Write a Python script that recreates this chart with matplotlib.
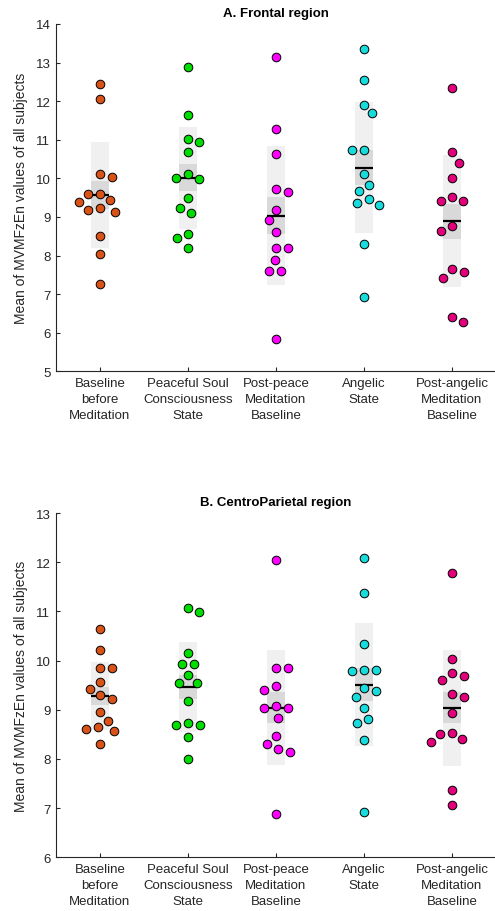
import numpy as np
import matplotlib
matplotlib.use('Agg')
import matplotlib.pyplot as plt
from matplotlib.patches import Rectangle

plt.rcParams['font.family'] = ['Liberation Sans', 'DejaVu Sans']

categories = ['Baseline\nbefore\nMeditation', 'Peaceful Soul\nConsciousness\nState',
              'Post-peace\nMeditation\nBaseline', 'Angelic\nState',
              'Post-angelic\nMeditation\nBaseline']
colors = ['#D95319', '#00DD00', '#FF00FF', '#18DCDC', '#E3007B']

# frontal region, one list per condition (14 subjects)
frontal_baseline = [12.44, 12.06, 10.04, 10.12, 9.59, 9.59, 9.39, 9.43, 9.24, 9.14, 9.17, 8.51, 8.03, 7.26]
frontal_peace = [12.88, 11.64, 10.93, 11.02, 10.69, 10.10, 9.98, 10.01, 9.48, 9.24, 9.09, 8.56, 8.45, 8.19]
frontal_postpeace = [13.15, 11.28, 10.64, 9.65, 9.72, 9.19, 8.93, 8.61, 8.19, 8.19, 7.88, 7.61, 7.61, 5.84]
frontal_angelic = [13.36, 12.54, 11.91, 11.69, 10.73, 10.73, 10.12, 9.84, 9.66, 9.46, 9.35, 9.31, 8.29, 6.93]
frontal_postangelic = [12.33, 10.67, 10.41, 10.01, 9.51, 9.40, 9.40, 8.76, 8.63, 7.64, 7.58, 7.43, 6.41, 6.28]

# centroparietal region
cp_baseline = [10.64, 10.21, 9.85, 9.85, 9.57, 9.43, 9.30, 9.22, 8.95, 8.77, 8.65, 8.61, 8.56, 8.30]
cp_peace = [11.07, 10.99, 10.15, 9.94, 9.92, 9.70, 9.54, 9.54, 9.18, 8.73, 8.69, 8.69, 8.45, 7.99]
cp_postpeace = [12.04, 9.84, 9.85, 9.41, 9.48, 9.03, 9.08, 9.03, 8.84, 8.47, 8.30, 8.15, 8.20, 6.89]
cp_angelic = [12.08, 11.38, 10.33, 9.81, 9.80, 9.79, 9.45, 9.39, 9.26, 9.04, 8.81, 8.73, 8.38, 6.93]
cp_postangelic = [11.77, 10.04, 9.69, 9.74, 9.60, 9.32, 9.26, 8.93, 8.51, 8.52, 8.40, 8.34, 7.37, 7.06]

frontal = [frontal_baseline, frontal_peace, frontal_postpeace, frontal_angelic, frontal_postangelic]
centroparietal = [cp_baseline, cp_peace, cp_postpeace, cp_angelic, cp_postangelic]

text_col = '#262626'


def swarm_offsets(ax, xc, vals, diam):
    # greedy beeswarm in pixel space, returns x positions in data units
    pts = ax.transData.transform(np.column_stack([np.full(len(vals), xc), vals]))
    ys = pts[:, 1]
    placed = []
    xs = np.zeros(len(vals))
    flip = 1
    for i in np.argsort(-np.asarray(vals)):
        cands = [0.0]
        for (px, py) in placed:
            dy = abs(ys[i] - py)
            if dy < diam:
                w = np.sqrt(diam ** 2 - dy ** 2)
                cands += [px + w, px - w]
        ok = []
        for c in cands:
            good = True
            for (px, py) in placed:
                if (c - px) ** 2 + (ys[i] - py) ** 2 < diam ** 2 - 1e-6:
                    good = False
                    break
            if good:
                ok.append(c)
        best = min(ok, key=lambda c: (round(abs(c), 3), -flip * np.sign(c)))
        if best != 0:
            flip = -flip
        placed.append((best, ys[i]))
        xs[i] = best
    ppu = ax.transData.transform((1, 0))[0] - ax.transData.transform((0, 0))[0]
    return xc + xs / ppu


def draw_panel(ax, groups, ylim, title):
    ax.set_xlim(0.5, 5.5)
    ax.set_ylim(*ylim)
    hw = 0.105
    for k, vals in enumerate(groups):
        x = k + 1
        v = np.asarray(vals)
        m = v.mean()
        sd = v.std(ddof=1)
        sem = sd / np.sqrt(len(v))
        ax.add_patch(Rectangle((x - hw, m - sd), 2 * hw, 2 * sd, facecolor='#F0F0F0',
                               edgecolor='none', zorder=1))
        ax.add_patch(Rectangle((x - hw, m - sem), 2 * hw, 2 * sem, facecolor='#D9D9D9',
                               edgecolor='none', zorder=2))
        ax.plot([x - hw, x + hw], [m, m], color='k', lw=1.6, zorder=3, solid_capstyle='butt')
        xs = swarm_offsets(ax, x, vals, 12)
        ax.plot(xs, v, 'o', ms=6.2, mfc=colors[k], mec='k', mew=0.7, zorder=4)
    ax.set_xticks(range(1, 6))
    ax.set_xticklabels(categories, fontsize=9.5, color=text_col, linespacing=1.45)
    ax.set_yticks(range(ylim[0], ylim[1] + 1))
    ax.tick_params(axis='both', direction='in', length=3, width=0.8, colors=text_col,
                   labelsize=9.5, pad=4)
    for s in ['top', 'right']:
        ax.spines[s].set_visible(False)
    for s in ['left', 'bottom']:
        ax.spines[s].set_color(text_col)
        ax.spines[s].set_linewidth(0.8)
    ax.set_ylabel('Mean of MVMFzEn values of all subjects', fontsize=10, color=text_col)
    ax.set_title(title, fontsize=9.5, fontweight='bold', color='k', pad=6)


fig = plt.figure(figsize=(4.95, 9.12), dpi=100)
ax1 = fig.add_axes([0.113, 0.5918, 0.889, 0.3808])
ax2 = fig.add_axes([0.113, 0.0589, 0.889, 0.3775])
draw_panel(ax1, frontal, (5, 14), 'A. Frontal region')
draw_panel(ax2, centroparietal, (6, 13), 'B. CentroParietal region')
ax1.yaxis.set_label_coords(-0.063, 0.5)
ax2.yaxis.set_label_coords(-0.063, 0.5)

fig.savefig('out.png', dpi=100)
